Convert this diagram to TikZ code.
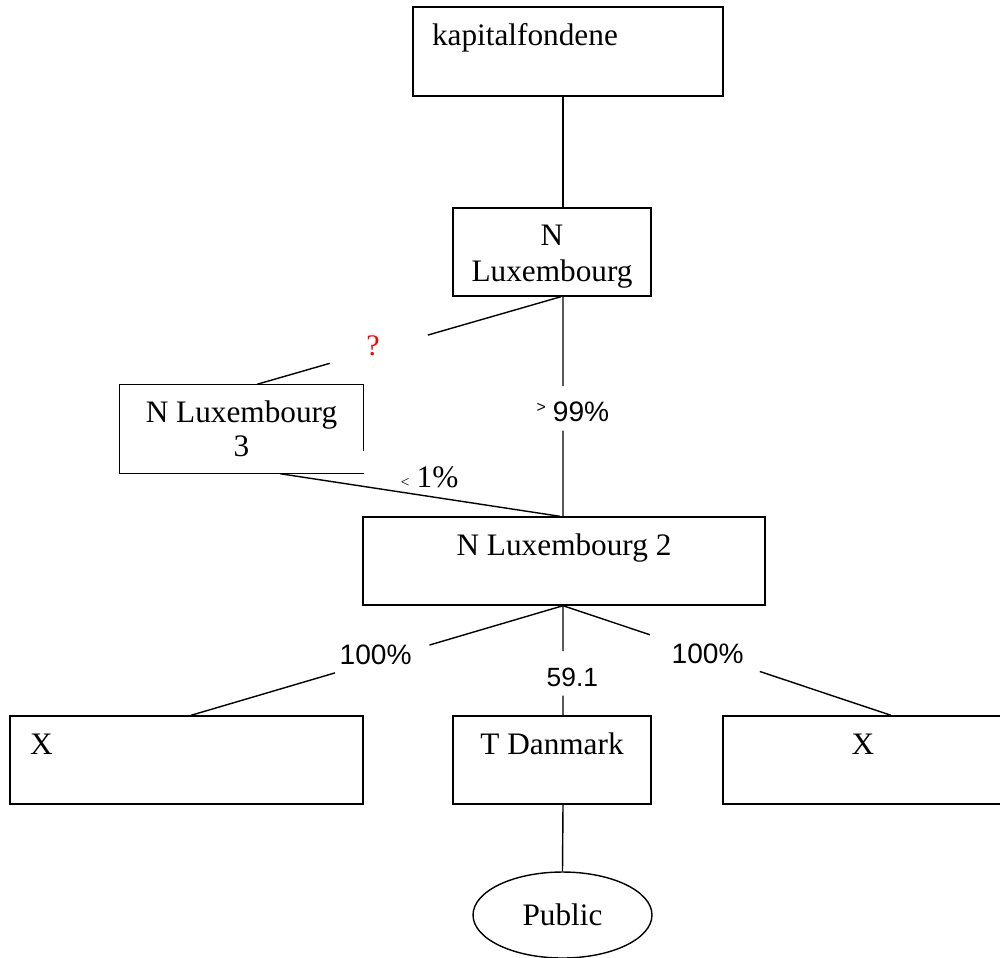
\documentclass[tikz,border=0pt]{standalone}
\usepackage{fontspec}
\setmainfont{Liberation Serif}
\newfontfamily\lsans{Liberation Sans}
\usetikzlibrary{calc,shapes.geometric}
\begin{document}
\begin{tikzpicture}[x=0.02cm,y=-0.02cm,
  line width=0.8pt,
  every node/.style={font=\fontsize{17.8}{20}\selectfont},
  box/.style={draw, rectangle, inner sep=0pt, minimum height=1.76cm},
  onebox/.style={box, text height=0.42cm, text depth=0.66cm},
  conn/.style={draw, line width=0.8pt},
  lbl/.style={anchor=base west, inner sep=0pt, font=\lsans\fontsize{16}{18}\selectfont},
  qlbl/.style={text=red, inner sep=0pt, font=\fontsize{17}{18}\selectfont}]
\useasboundingbox (0,0) rectangle (1000,957);
\clip (0,0) rectangle (1000,957);

% nodes
\node[onebox, minimum width=6.2cm, minimum height=1.78cm, text width=5.44cm, align=left, inner xsep=0.38cm] (kap) at (568,51.5) {kapitalfondene};
\node[box, minimum width=3.96cm, align=center, text height=1.34cm, text depth=0.14cm, font=\fontsize{17.8}{21}\selectfont] (nlux) at (552,252) {N\\Luxembourg};
\node[rectangle, inner sep=0pt, minimum width=4.86cm, minimum height=1.76cm, align=center, font=\fontsize{17.8}{19.3}\selectfont] (n3) at (241.5,429) {N Luxembourg\\3};
\node[onebox, minimum width=8.04cm] (n2) at (564,561) {N Luxembourg 2};
\node[onebox, minimum width=7.06cm, text width=6.26cm, align=left, inner xsep=0.4cm] (xl) at (186.5,760) {X};
\node[onebox, minimum width=3.96cm] (td) at (552,760) {T Danmark};
\node[onebox, minimum width=5.6cm] (xr) at (863,760) {X};
\node[draw, ellipse, inner sep=0pt, minimum width=3.58cm, minimum height=1.72cm] (pub) at (562.5,915) {Public};

% N Luxembourg 3 box outline (corner left open as in the original)
\draw (n3.north west) -- (n3.north east) -- ($(n3.north east)+(0,67)$);
\draw (n3.south east) -- (n3.south west) -- (n3.north west);

% connector end points
\coordinate (kapS) at ($(kap.south)+(-5,0)$);
\coordinate (nluxN) at ($(nlux.north)+(11,0)$);
\coordinate (nluxS) at ($(nlux.south)+(11,0)$);
\coordinate (nluxSq) at ($(nlux.south)+(9,0)$);
\coordinate (n3N) at ($(n3.north)+(15.5,0)$);
\coordinate (n3S) at ($(n3.south)+(38.5,0)$);
\coordinate (n2N) at ($(n2.north)+(-1,0)$);
\coordinate (n2Nl) at ($(n2.north)+(-4,0)$);
\coordinate (n2S) at ($(n2.south)+(-1,0)$);
\coordinate (xlN) at ($(xl.north)+(4.5,0)$);
\coordinate (tdN) at ($(td.north)+(11,0)$);
\coordinate (tdS) at ($(td.south)+(11,0)$);
\coordinate (xrN) at ($(xr.north)+(28,0)$);
\coordinate (pubN) at (pub.north);

% connectors
\draw (kapS) -- (nluxN);
\draw (n3N) -- ($(n3N)!0.239!(nluxSq)$);
\draw ($(n3N)!0.562!(nluxSq)$) -- (nluxSq);
\draw (nluxS) -- ($(nluxS)!0.407!(n2N)$);
\draw ($(nluxS)!0.61!(n2N)$) -- (n2N);
\draw (n3S) -- (n2Nl);
\draw (n2S) -- ($(n2S)!0.359!(xlN)$);
\draw ($(n2S)!0.613!(xlN)$) -- (xlN);
\draw (n2S) -- ($(n2S)!0.414!(tdN)$);
\draw ($(n2S)!0.82!(tdN)$) -- (tdN);
\draw (n2S) -- ($(n2S)!0.265!(xrN)$);
\draw ($(n2S)!0.60!(xrN)$) -- (xrN);
\draw (tdS) -- (pubN);

% labels
\node[qlbl] (q) at (373,346) {?};
\node[lbl] (l99) at (536,421) {{\fontsize{9}{9}\selectfont\raisebox{5pt}{>}}\hspace{4pt}99\%};
\node[anchor=base west, inner sep=0pt] (l1) at (400,487) {{\fontsize{9}{9}\selectfont <}\hspace{4pt}1\%};
\node[lbl] (l100a) at (339,664) {100\%};
\node[lbl, font=\lsans\fontsize{15}{17}\selectfont] (l59) at (546,686) {59.1};
\node[lbl] (l100b) at (671,663) {100\%};
\end{tikzpicture}
\end{document}
